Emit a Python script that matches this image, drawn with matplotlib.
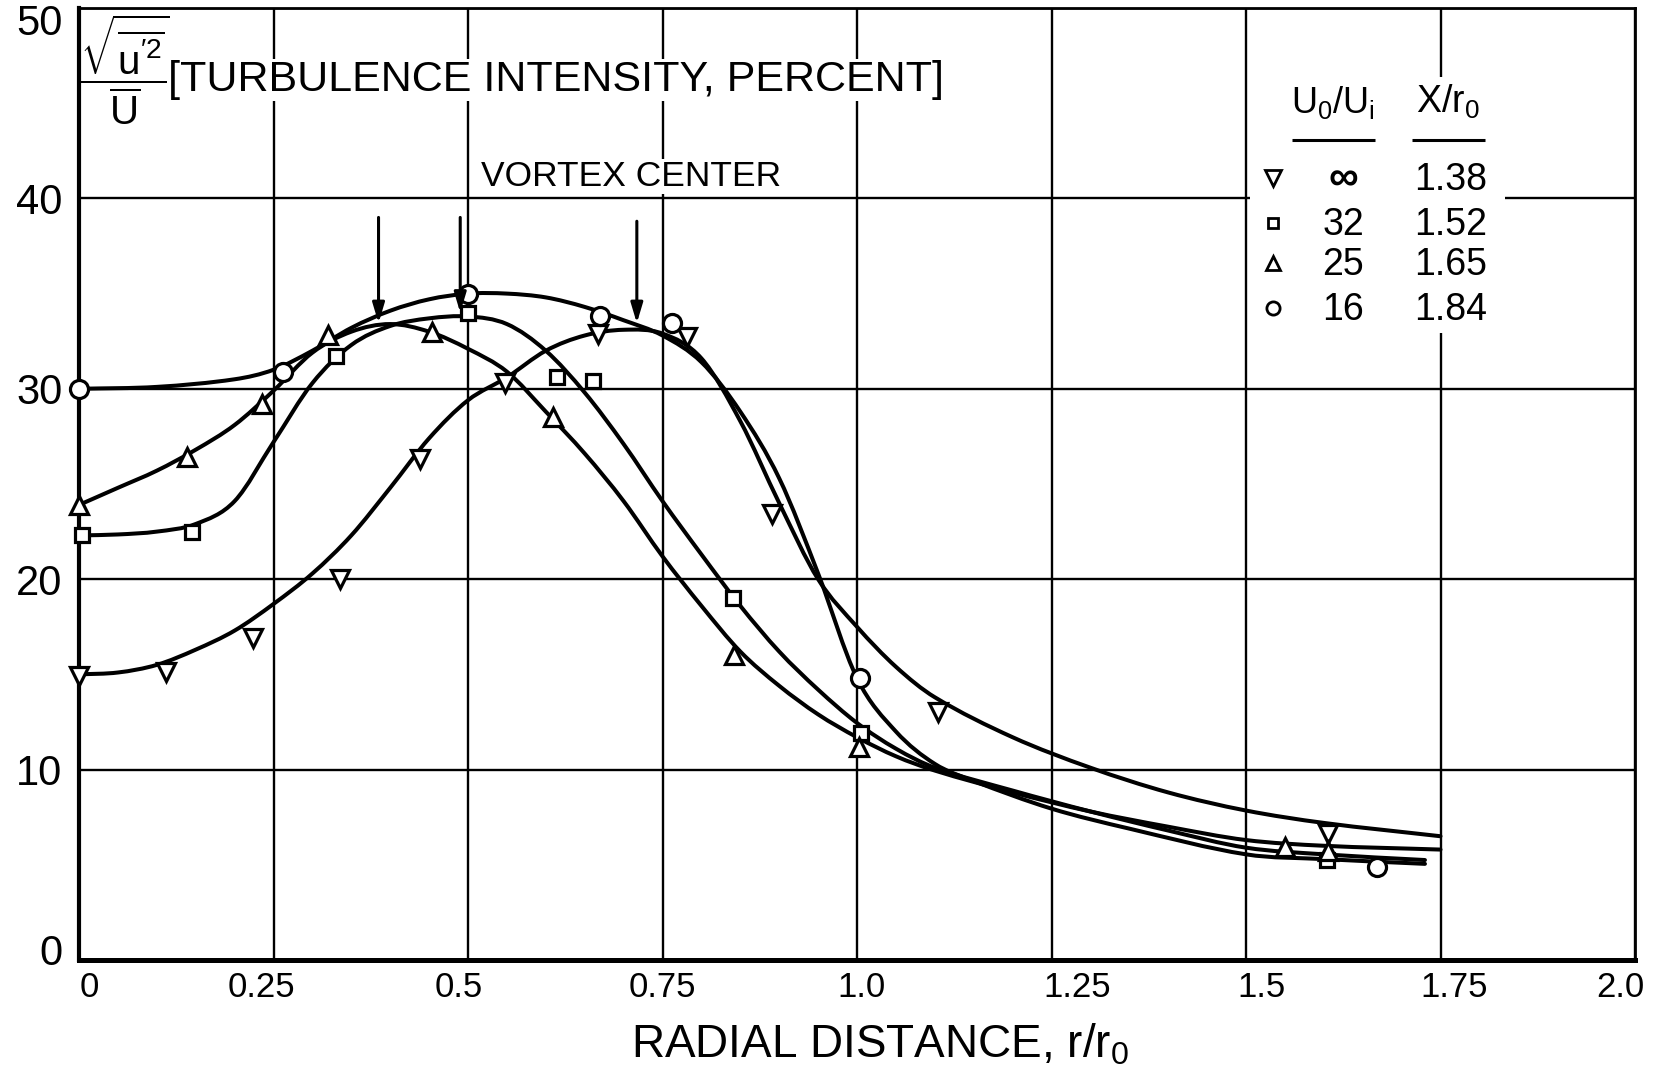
import numpy as np
import matplotlib
matplotlib.use("Agg")
import matplotlib.pyplot as plt
from matplotlib.path import Path
from matplotlib.patches import PathPatch, Rectangle
from matplotlib.transforms import ScaledTranslation

# ---------------- data ----------------
x_ticks = [0, 0.25, 0.5, 0.75, 1.0, 1.25, 1.5, 1.75, 2.0]
x_tick_labels = ['0', '0.25', '0.5', '0.75', '1.0', '1.25', '1.5', '1.75', '2.0']
y_ticks = [0, 10, 20, 30, 40, 50]
y_tick_labels = ['0', '10', '20', '30', '40', '50']

ratio_labels = ['\u221e', '32', '25', '16']        # U0/Ui
xr_labels = ['1.38', '1.52', '1.65', '1.84']        # X/r0

# measured points
inf_px = [0.0, 0.112, 0.224, 0.336, 0.438, 0.548, 0.667, 0.781, 0.891, 1.104, 1.605]
inf_py = [14.9, 15.1, 16.9, 20.0, 26.3, 30.3, 32.9, 32.7, 23.4, 13.0, 6.6]

sq_px = [0.004, 0.145, 0.330, 0.500, 0.614, 0.661, 0.841, 1.005, 1.604]
sq_py = [22.3, 22.5, 31.7, 34.0, 30.6, 30.4, 19.0, 11.9, 5.25]

tri_px = [0.0, 0.139, 0.235, 0.320, 0.454, 0.609, 0.842, 1.003, 1.550, 1.605]
tri_py = [23.9, 26.4, 29.2, 32.8, 33.0, 28.5, 16.0, 11.2, 5.95, 5.7]

circ_px = [0.0, 0.262, 0.500, 0.670, 0.762, 1.004, 1.668]
circ_py = [30.0, 30.9, 35.0, 33.8, 33.45, 14.8, 4.9]

# faired curves
inf_cx = [0, 0.05, 0.1, 0.15, 0.2, 0.25, 0.3, 0.35, 0.4, 0.45, 0.5, 0.55, 0.6, 0.65,
          0.7, 0.75, 0.8, 0.85, 0.9, 0.95, 1.0, 1.05, 1.1, 1.2, 1.3, 1.4, 1.5, 1.6, 1.75]
inf_cy = [15.0, 15.1, 15.5, 16.3, 17.3, 18.7, 20.3, 22.3, 24.8, 27.4, 29.4, 30.6, 32.0, 32.8,
          33.1, 32.9, 31.6, 28.3, 24.0, 20.0, 17.5, 15.4, 13.8, 11.7, 10.1, 8.8, 7.85, 7.2, 6.5]

sq_cx = [0, 0.05, 0.1, 0.15, 0.2, 0.25, 0.3, 0.35, 0.4, 0.45, 0.5, 0.55, 0.6, 0.65,
         0.7, 0.75, 0.8, 0.85, 0.9, 0.95, 1.0, 1.05, 1.1, 1.2, 1.3, 1.4, 1.5, 1.6, 1.73]
sq_cy = [22.3, 22.35, 22.5, 22.9, 24.1, 27.2, 30.3, 32.3, 33.3, 33.7, 33.8, 33.4, 32.0, 29.8,
         27.1, 24.1, 21.3, 18.6, 16.2, 14.2, 12.45, 11.1, 10.1, 8.9, 7.8, 6.8, 5.9, 5.55, 5.25]

tri_cx = [0, 0.05, 0.1, 0.15, 0.2, 0.25, 0.3, 0.35, 0.4, 0.45, 0.5, 0.55, 0.6, 0.65,
          0.7, 0.75, 0.8, 0.85, 0.9, 0.95, 1.0, 1.05, 1.1, 1.2, 1.3, 1.4, 1.5, 1.6, 1.75]
tri_cy = [23.9, 24.8, 25.7, 26.8, 28.1, 29.9, 31.9, 33.0, 33.4, 33.0, 32.1, 30.9, 28.8, 26.6,
          24.1, 21.2, 18.6, 16.2, 14.4, 12.9, 11.7, 10.7, 9.95, 8.8, 7.8, 7.0, 6.3, 6.0, 5.8]

circ_cx = [0, 0.1, 0.2, 0.25, 0.3, 0.35, 0.4, 0.45, 0.5, 0.55, 0.6, 0.65, 0.7, 0.75,
           0.8, 0.85, 0.9, 0.95, 1.0, 1.05, 1.1, 1.15, 1.25, 1.35, 1.5, 1.6, 1.73]
circ_cy = [30.0, 30.1, 30.5, 31.0, 32.0, 33.2, 34.1, 34.7, 35.0, 35.0, 34.8, 34.3, 33.6, 32.8,
           31.4, 28.8, 25.3, 20.3, 14.8, 12.0, 10.3, 9.4, 7.95, 6.9, 5.55, 5.3, 5.05]

# vortex-centre arrows
vortex_x = [0.385, 0.49, 0.717]
vortex_top = [39.0, 39.0, 38.8]
vortex_tip = [33.45, 34.0, 33.45]

# ---------------- helpers ----------------
def faired_path(xs, ys):
    """Cubic Hermite (in x) through the read curve points, as a Bezier path."""
    x = np.asarray(xs, float)
    y = np.asarray(ys, float)
    n = len(x)
    m = np.empty(n)
    m[0] = (y[1] - y[0]) / (x[1] - x[0])
    m[-1] = (y[-1] - y[-2]) / (x[-1] - x[-2])
    for i in range(1, n - 1):
        m[i] = (y[i + 1] - y[i - 1]) / (x[i + 1] - x[i - 1])
    verts = [(x[0], y[0])]
    codes = [Path.MOVETO]
    for i in range(n - 1):
        h = x[i + 1] - x[i]
        verts += [(x[i] + h / 3, y[i] + m[i] * h / 3),
                  (x[i + 1] - h / 3, y[i + 1] - m[i + 1] * h / 3),
                  (x[i + 1], y[i + 1])]
        codes += [Path.CURVE4] * 3
    return Path(verts, codes)


REG = ['Liberation Sans', 'DejaVu Sans']
plt.rcParams['font.family'] = REG
plt.rcParams['mathtext.fontset'] = 'custom'
plt.rcParams['mathtext.rm'] = 'Liberation Sans'
plt.rcParams['mathtext.it'] = 'Liberation Sans'

fig = plt.figure(figsize=(16.57, 10.68), dpi=100)
ax = fig.add_axes([0.04768, 0.10112, 0.93905, 0.89139])
ax.set_xlim(0, 2.0)
ax.set_ylim(0, 50)

ax.set_xticks(x_ticks)
ax.set_xticklabels(x_tick_labels)
ax.set_yticks(y_ticks)
ax.set_yticklabels(y_tick_labels)
ax.tick_params(axis='both', length=0, colors='black')
ax.tick_params(axis='x', pad=8, labelsize=25)
ax.tick_params(axis='y', pad=12, labelsize=30)
ax.grid(True, color='black', lw=1.7)
ax.set_axisbelow(True)
for side, lw in [('left', 3.0), ('bottom', 3.6), ('top', 2.0), ('right', 2.0)]:
    ax.spines[side].set_linewidth(lw)
    ax.spines[side].set_color('black')

# hand-lettered label offsets (pixels) as in the reference
ylabs = ax.get_yticklabels()
ylabs[-1].set_transform(ylabs[-1].get_transform() + ScaledTranslation(0, -12 / 100, fig.dpi_scale_trans))
ylabs[0].set_transform(ylabs[0].get_transform() + ScaledTranslation(0, 11 / 100, fig.dpi_scale_trans))
x_label_shift_px = [10, -12, -9, 0, 4, 26, 15, 14, -15]
for lab, dx in zip(ax.get_xticklabels(), x_label_shift_px):
    lab.set_transform(lab.get_transform() + ScaledTranslation(dx / 100, 0, fig.dpi_scale_trans))

ax.set_xlabel('RADIAL DISTANCE, r/r$_\\mathregular{0}$', fontsize=33)
ax.xaxis.set_label_coords(0.515, -0.065)

# curves
for cx, cy in [(inf_cx, inf_cy), (sq_cx, sq_cy), (tri_cx, tri_cy), (circ_cx, circ_cy)]:
    ax.add_patch(PathPatch(faired_path(cx, cy), fill=False, edgecolor='black',
                           lw=2.9, capstyle='round', joinstyle='round', zorder=3))

# points
mk = dict(linestyle='none', mfc='white', mec='black', mew=2.3, zorder=4, clip_on=False)
ax.plot(inf_px, inf_py, marker='v', ms=13.5, **mk)
ax.plot(sq_px, sq_py, marker='s', ms=10.5, **mk)
ax.plot(tri_px, tri_py, marker='^', ms=13.5, **mk)
ax.plot(circ_px, circ_py, marker='o', ms=13, **mk)

# arrows
for vx, vt, vp in zip(vortex_x, vortex_top, vortex_tip):
    ax.annotate('', xy=(vx, vp), xytext=(vx, vt),
                arrowprops=dict(arrowstyle='-|>,head_length=0.6,head_width=0.18',
                                lw=2.2, color='black', shrinkA=0, shrinkB=0,
                                mutation_scale=20), zorder=5)
ax.text(0.2584, 0.813, 'VORTEX CENTER', transform=ax.transAxes, fontsize=25.5,
        ha='left', va='baseline', zorder=3,
        bbox=dict(facecolor='white', edgecolor='none', pad=1))

# title inside the plot
ax.text(0.0296, 0.935, r'$\dfrac{\sqrt{\overline{\mathrm{u}^{\prime 2}}}}{\overline{\mathrm{U}}}$',
        transform=ax.transAxes, fontsize=29, ha='center', va='center', zorder=3)
ax.text(0.0572, 0.913, '[TURBULENCE INTENSITY, PERCENT]', transform=ax.transAxes,
        fontsize=31, ha='left', va='baseline', zorder=3,
        bbox=dict(facecolor='white', edgecolor='none', pad=1))

# legend table
ax.add_patch(Rectangle((0.7525, 0.6586), 0.9165 - 0.7525, 0.9275 - 0.6586,
                       transform=ax.transAxes, facecolor='white', edgecolor='none', zorder=1.5))
ax.text(0.806, 0.8897, 'U$_\\mathregular{0}$/U$_\\mathregular{i}$', transform=ax.transAxes,
        fontsize=26, ha='center', va='baseline', zorder=3)
ax.text(0.8798, 0.8897, 'X/r$_\\mathregular{0}$', transform=ax.transAxes,
        fontsize=27, ha='center', va='baseline', zorder=3)
for x0, x1 in [(0.7796, 0.8329), (0.8567, 0.9036)]:
    ax.plot([x0, x1], [0.8613, 0.8613], transform=ax.transAxes, color='black', lw=2.2,
            solid_capstyle='butt', zorder=3)
row_base = [0.8088, 0.7616, 0.7195, 0.6723]
row_mid = [0.8214, 0.7742, 0.7321, 0.6849]
leg_markers = [('v', 11), ('s', 7.5), ('^', 10), ('o', 9.5)]
for (m, s), rl, xl, yb, ym in zip(leg_markers, ratio_labels, xr_labels, row_base, row_mid):
    ax.plot([0.7674], [ym], marker=m, ms=s, mfc='white', mec='black', mew=2.0,
            linestyle='none', transform=ax.transAxes, zorder=3)
    ax.text(0.8123, yb, rl, transform=ax.transAxes, fontsize=30 if rl == '\u221e' else 27,
            ha='center', va='baseline', zorder=3,
            fontweight='bold' if rl == '\u221e' else 'normal')
    ax.text(0.8817, yb, xl, transform=ax.transAxes, fontsize=27, ha='center',
            va='baseline', zorder=3)

fig.savefig('out.png', dpi=100, facecolor='white')
